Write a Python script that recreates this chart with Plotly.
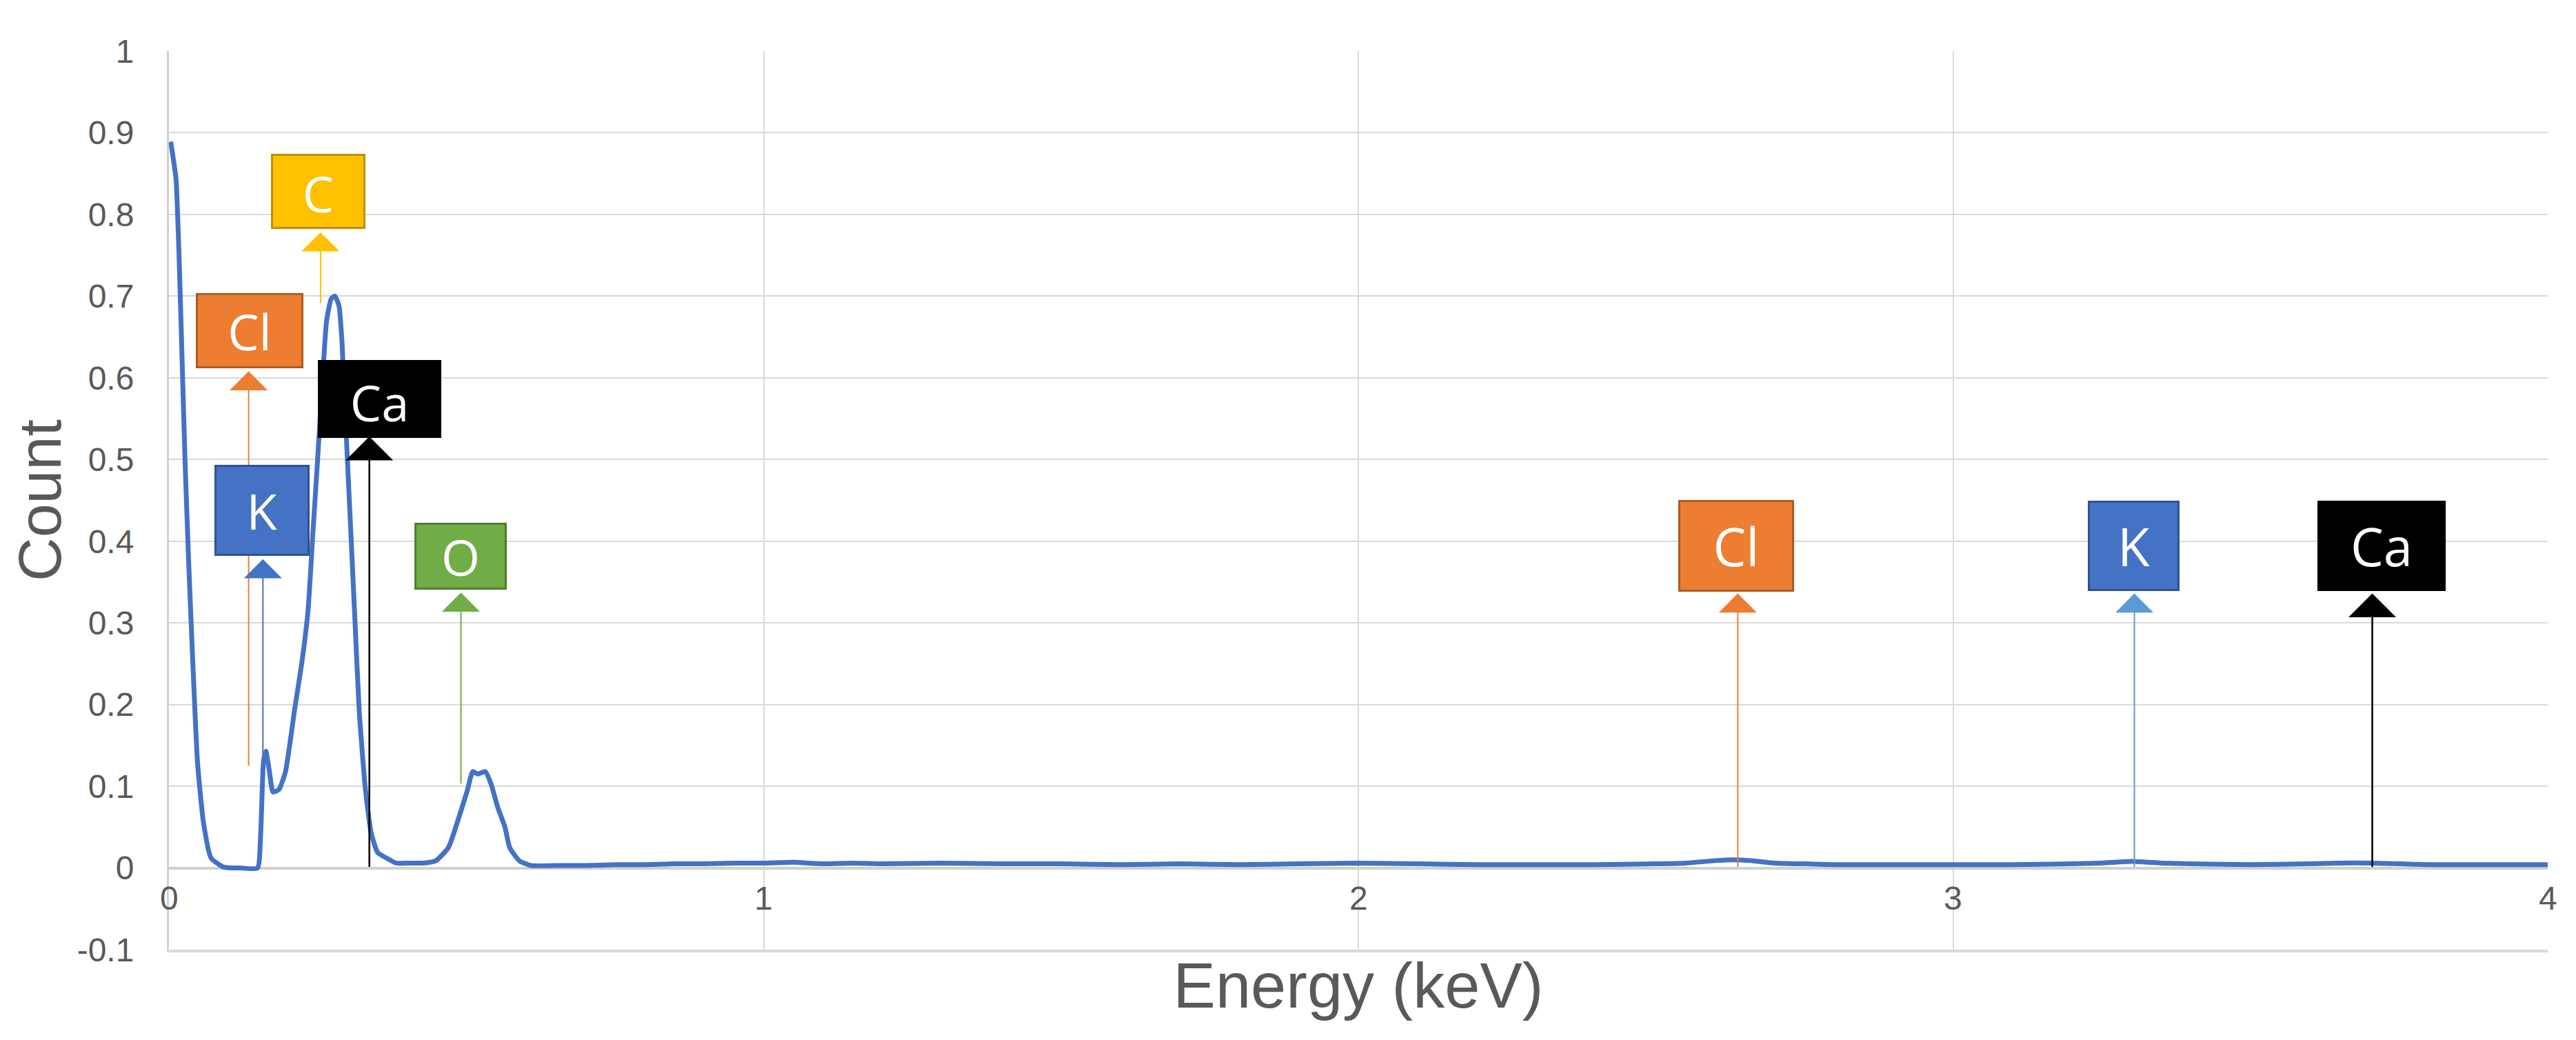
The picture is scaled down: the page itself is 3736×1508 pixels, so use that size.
import plotly.graph_objects as go

# spectrum (energy in keV, normalised count)
energy = [0.003, 0.008, 0.012, 0.017, 0.022, 0.027, 0.033, 0.040, 0.048, 0.058,
          0.071, 0.092, 0.12, 0.149, 0.154, 0.159, 0.163, 0.169, 0.175, 0.185,
          0.196, 0.211, 0.224, 0.234, 0.242, 0.250, 0.258, 0.265, 0.273, 0.279,
          0.286, 0.291, 0.296, 0.304, 0.312, 0.320, 0.330, 0.340, 0.351, 0.366,
          0.382, 0.402, 0.428, 0.449, 0.470, 0.485, 0.501, 0.511, 0.519, 0.532,
          0.542, 0.553, 0.565, 0.573, 0.589, 0.609, 0.65, 0.70, 0.75, 0.80,
          0.85, 0.90, 0.95, 1.00, 1.05, 1.10, 1.15, 1.20, 1.30, 1.40,
          1.50, 1.60, 1.70, 1.80, 1.90, 2.00, 2.10, 2.20, 2.30, 2.40,
          2.50, 2.55, 2.60, 2.63, 2.66, 2.70, 2.75, 2.80, 2.90, 3.00,
          3.10, 3.20, 3.25, 3.30, 3.35, 3.40, 3.50, 3.60, 3.65, 3.70,
          3.75, 3.80, 3.90, 4.00]
count = [0.889, 0.865, 0.843, 0.75, 0.626, 0.50, 0.378, 0.254, 0.13, 0.056,
         0.012, 0.001, 0.0, 0.0, 0.037, 0.13, 0.143, 0.118, 0.093, 0.096,
         0.118, 0.192, 0.254, 0.316, 0.409, 0.50, 0.595, 0.669, 0.697, 0.70,
         0.688, 0.644, 0.564, 0.44, 0.316, 0.192, 0.099, 0.043, 0.019, 0.012,
         0.006, 0.006, 0.006, 0.009, 0.025, 0.056, 0.093, 0.118, 0.115, 0.118,
         0.102, 0.074, 0.05, 0.025, 0.009, 0.003, 0.003, 0.003, 0.004, 0.004,
         0.005, 0.005, 0.006, 0.006, 0.007, 0.005, 0.006, 0.005, 0.006, 0.005,
         0.005, 0.004, 0.005, 0.004, 0.005, 0.006, 0.005, 0.004, 0.004, 0.004,
         0.005, 0.006, 0.009, 0.010, 0.009, 0.006, 0.005, 0.004, 0.004, 0.004,
         0.004, 0.005, 0.006, 0.008, 0.006, 0.005, 0.004, 0.005, 0.006, 0.006,
         0.005, 0.004, 0.004, 0.004]

# element markers: label, line energy, arrow tail and head (count units)
elements = ["C", "Cl", "Ca", "K", "O", "Cl", "K", "Ca"]
line_energy = [0.255, 0.134, 0.337, 0.158, 0.491, 2.638, 3.305, 3.705]
line_base = [0.69, 0.124, 0.0, 0.13, 0.102, 0.0, 0.0, 0.0]
line_top = [0.778, 0.608, 0.528, 0.378, 0.337, 0.336, 0.336, 0.336]

x_ticks = [0, 1, 2, 3, 4]
y_ticks = [-0.1, 0, 0.1, 0.2, 0.3, 0.4, 0.5, 0.6, 0.7, 0.8, 0.9, 1]
y_tick_text = ["-0.1", "0", "0.1", "0.2", "0.3", "0.4", "0.5", "0.6", "0.7", "0.8", "0.9", "1"]

# label box placement / look
box_x = [0.251, 0.1356, 0.354, 0.156, 0.490, 2.635, 3.304, 3.720]
box_y = [0.828, 0.6575, 0.574, 0.438, 0.382, 0.394, 0.394, 0.394]
box_w = [137, 156, 179, 138, 134, 168, 133, 186]
box_h = [109, 109, 113, 132, 97, 133, 131, 131]
box_fill = ["#FFC000", "#ED7D31", "#000000", "#4472C4", "#70AD47", "#ED7D31", "#4472C4", "#000000"]
box_edge = ["#BF9000", "#AE5A21", "#000000", "#2F528F", "#507E32", "#AE5A21", "#2F528F", "#000000"]
arrow_col = ["#FFC000", "#ED7D31", "#000000", "#4472C4", "#70AD47", "#ED7D31", "#5B9BD5", "#000000"]
text_valign = ["bottom", "middle", "bottom", "middle", "middle", "middle", "middle", "middle"]

grey = "#595959"

fig = go.Figure()
fig.add_trace(go.Scatter(x=energy, y=count, mode="lines",
                         line=dict(color="#4472C4", width=7, shape="spline", smoothing=0.5),
                         showlegend=False))

# arrows first, boxes on top
for i in range(len(elements)):
    fig.add_annotation(x=line_energy[i], y=line_top[i], ax=line_energy[i], ay=line_base[i],
                       xref="x", yref="y", axref="x", ayref="y", text="",
                       showarrow=True, arrowhead=1, arrowsize=4.6,
                       arrowwidth=2.5 if arrow_col[i] == "#000000" else 2,
                       arrowcolor=arrow_col[i], standoff=0, startstandoff=0)

for i in range(len(elements)):
    fig.add_annotation(x=box_x[i], y=box_y[i], xref="x", yref="y", text=elements[i],
                       showarrow=False, xanchor="center", yanchor="middle",
                       width=box_w[i] - 6, height=box_h[i] - 6, borderpad=0,
                       bgcolor=box_fill[i], bordercolor=box_edge[i], borderwidth=3,
                       align="center", valign=text_valign[i],
                       font=dict(family="Open Sans", size=72 if i < 5 else 76, color="white"))

# x tick labels sit just under the y=0 axis, as in the original
for v in x_ticks:
    fig.add_annotation(x=v, y=0, xref="x", yref="y", text=str(v), showarrow=False,
                       xanchor="center", yanchor="top", yshift=-15,
                       font=dict(family="Liberation Sans", size=48, color=grey))

# page has an 8px body margin, so the figure is 16px smaller than the window
fig.update_layout(
    width=3720, height=1492,
    margin=dict(l=233, r=33, t=66, b=123),
    paper_bgcolor="white", plot_bgcolor="white",
    font=dict(family="Liberation Sans", color=grey),
    xaxis=dict(range=[0, 4], tickvals=x_ticks, showticklabels=False,
               showgrid=True, gridcolor="#D9D9D9", gridwidth=2,
               zeroline=False, showline=True, linecolor="#D9D9D9", linewidth=4,
               title=dict(text="Energy (keV)", font=dict(size=92, color=grey), standoff=18)),
    yaxis=dict(range=[-0.1, 1], tickvals=y_ticks, ticktext=y_tick_text,
               tickfont=dict(size=48, color=grey), ticklabelstandoff=38,
               showgrid=True, gridcolor="#D9D9D9", gridwidth=2,
               zeroline=True, zerolinecolor="#D0D0D0", zerolinewidth=4,
               showline=True, linecolor="#D0D0D0", linewidth=3,
               title=dict(text="Count", font=dict(size=88, color=grey), standoff=30)),
)

fig.write_html("out.html")
